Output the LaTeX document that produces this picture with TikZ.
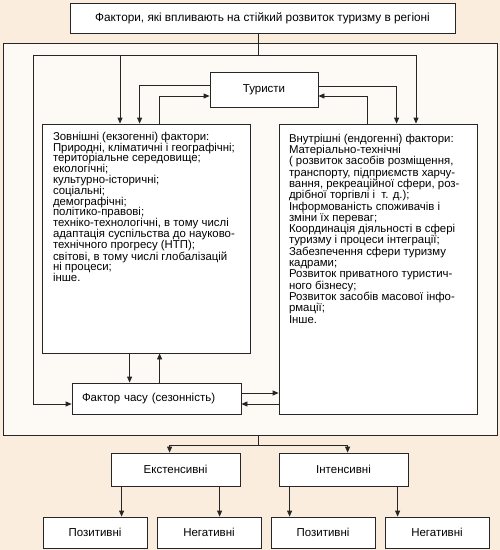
\documentclass[tikz,border=0pt]{standalone}
\usepackage{fontspec}
\setmainfont{Liberation Sans}
\usetikzlibrary{arrows.meta, positioning}
\definecolor{paper}{RGB}{250,237,221}
\definecolor{sheet}{RGB}{253,250,246}

\begin{document}
\begin{tikzpicture}[x=1pt,y=-1pt,line width=0.8pt,draw=black!85,>={Triangle[length=6pt,width=5pt]}]
    \tikzstyle{box}=[rectangle, draw, fill=white, inner sep=0pt, font=\fontsize{11.5}{13}\selectfont]
    \tikzstyle{arr}=[->]
    \tikzstyle{list}=[anchor=north west, inner sep=0pt, align=left, font=\fontsize{11.4}{10.8}\selectfont]

    \fill[paper] (0,0) rectangle (500,550);
    \useasboundingbox (0,0) rectangle (500,550);

    \node[box, minimum width=385pt, minimum height=30pt, font=\fontsize{11.8}{13}\selectfont] (title) at (262.5,18) {Фактори, які впливають на стійкий розвиток туризму в регіоні};
    \node[box, fill=sheet, minimum width=494pt, minimum height=392pt] (outer) at (250,239) {};

    \node[box, minimum width=108pt, minimum height=35pt] (tour) at (264,89.5) {Туристи};
    \node[box, minimum width=208pt, minimum height=229pt] (ext) at (146,238.5) {};
    \node[box, minimum width=198pt, minimum height=290pt] (int) at (378,269) {};
    \node[box, minimum height=31pt, text width=149pt, inner xsep=10pt, align=left] (season) at (156.5,398.5) {Фактор часу (сезонність)};

    \node[list] (ext-txt) at ([shift={(11pt,-8pt)}]ext.north west) {Зовнішні (екзогенні) фактори:\\
        Природні, кліматичні і географічні;\\ територіальне середовище;\\ екологічні;\\
        культурно-історичні;\\ соціальні;\\ демографічні;\\ політико-правові;\\
        техніко-технологічні, в тому числі\\ адаптація суспільства до науково-\\
        технічного прогресу (НТП);\\ світові, в тому числі глобалізацій\\ ні процеси;\\ інше.};
    \node[list, font=\fontsize{11.4}{11.3}\selectfont] (int-txt) at ([shift={(10pt,-10pt)}]int.north west) {Внутрішні (ендогенні) фактори:\\
        Матеріально-технічні\\ ( розвиток засобів розміщення,\\ транспорту, підприємств харчу-\\
        вання, рекреаційної сфери, роз-\\ дрібної торгівлі і\ \ т. д.);\\ Інформованість споживачів і\\
        зміни їх переваг;\\ Координація діяльності в сфері\\ туризму і процеси інтеграції;\\
        Забезпечення сфери туризму\\ кадрами;\\ Розвиток приватного туристич-\\ ного бізнесу;\\
        Розвиток засобів масової інфо-\\ рмації;\\ Інше.};

    \node[box, minimum width=129pt, minimum height=33pt] (extens) at (175.5,469.5) {Екстенсивні};
    \node[box, minimum width=129pt, minimum height=33pt] (intens) at (343.5,469.5) {Інтенсивні};

	\foreach \x/\t in {0/Позитивні,1/Негативні,2/Позитивні,3/Негативні}{
		\pgfmathsetmacro\y{95+\x*114}
		\node[box, minimum width=104pt, minimum height=31pt] (R-\x) at (\y,532.5) {\t};
	}

    % top distribution line
    \coordinate (J) at (258,55);
    \coordinate (JL) at (33,55);
    \coordinate (JR) at (416,55);
    \coordinate (a1) at (120,55);
    \draw (title.south -| J) -- (J);
    \draw (JL) -- (JR);
    \draw[arr] (a1) -- (a1 |- ext.north);
    \draw[arr] (JR) -- (JR |- int.north);
    \draw[arr] (JL) |- ([yshift=-5.5pt]season.west);

    % tourists
    \draw[arr] ([yshift=4.5pt]tour.west) -| ([xshift=98pt]ext.north west);
    \draw[arr] ([xshift=118pt]ext.north west) |- ([yshift=-6.5pt]tour.west);
    \draw[arr] ([yshift=3.5pt]tour.east) -| ([xshift=118pt]int.north west);
    \draw[arr] ([xshift=89pt]int.north west) |- ([yshift=-6.5pt]tour.east);

    % season
    \draw[arr] ([xshift=88pt]ext.south west) -- ([xshift=58pt]season.north west);
    \draw[arr] ([xshift=88pt]season.north west) -- ([xshift=118pt]ext.south west);
    \draw[arr] ([yshift=5.5pt]season.east) -- ([yshift=5.5pt]season.east -| int.west);
    \draw[arr] ([yshift=-5.5pt]season.east -| int.west) -- ([yshift=-5.5pt]season.east);

    % bottom
    \coordinate (B) at (258,445);
    \draw (outer.south -| B) -- (B);
    \draw[arr] (B) -| ([xshift=59pt]extens.north west);
    \draw[arr] (B) -| ([xshift=69pt]intens.north west);
    \draw[arr] ([xshift=11pt]extens.south west) -- ([xshift=11pt]extens.south west |- R-0.north);
    \draw[arr] ([xshift=109pt]extens.south west) -- ([xshift=109pt]extens.south west |- R-1.north);
    \draw[arr] ([xshift=11pt]intens.south west) -- ([xshift=11pt]intens.south west |- R-2.north);
    \draw[arr] ([xshift=119pt]intens.south west) -- ([xshift=119pt]intens.south west |- R-3.north);
\end{tikzpicture}
\end{document}
